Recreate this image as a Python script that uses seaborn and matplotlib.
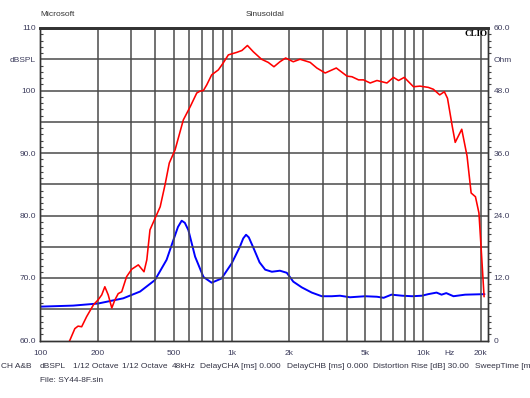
import numpy as np
import pandas as pd
import seaborn as sns
import matplotlib.pyplot as plt

# SPL response (red, left axis)
spl_freq = [130, 143, 152, 158, 165, 175, 190, 201, 210, 218,
            227, 237, 246, 256, 267, 283, 301, 326, 349, 361,
            375, 398, 424, 450, 473, 507, 560, 608, 658, 685,
            713, 742, 787, 853, 904, 962, 1064, 1132, 1210, 1298,
            1433, 1553, 1664, 1788, 1915, 2099, 2277, 2571, 2786, 3080,
            3520, 4003, 4250, 4600, 4883, 5290, 5740, 6470, 7000, 7440,
            7970, 8900, 9620, 10630, 11300, 12200, 12900, 13400, 14200, 14700,
            15900, 16950, 17800, 18750, 19550, 20100, 20800]
spl_db = [57.5, 60.0, 61.9, 62.3, 62.2, 63.8, 65.7, 66.5, 67.3, 68.6,
          67.3, 65.2, 66.5, 67.5, 67.8, 70.2, 71.4, 72.1, 71.0, 72.9,
          77.7, 79.5, 81.4, 85.0, 88.4, 90.5, 95.3, 97.4, 99.6, 99.9,
          100.0, 100.9, 102.5, 103.3, 104.4, 105.7, 106.1, 106.4, 107.2, 106.2,
          105.0, 104.5, 103.8, 104.6, 105.2, 104.6, 105.0, 104.5, 103.6, 102.8,
          103.6, 102.3, 102.2, 101.7, 101.7, 101.2, 101.6, 101.2, 102.1, 101.6,
          102.1, 100.6, 100.7, 100.5, 100.2, 99.3, 99.8, 98.75, 94.2, 91.7,
          93.8, 89.5, 83.6, 83.0, 80.4, 74.5, 67.0]

# impedance (blue, right axis)
imp_freq = [100, 149, 201, 272, 333, 398, 458, 497, 525, 549,
            570, 595, 645, 713, 787, 886, 1001, 1105, 1150, 1190,
            1230, 1300, 1400, 1498, 1623, 1788, 1942, 2099, 2325, 2622,
            2956, 3335, 3680, 4150, 4980, 5740, 6220, 6830, 7770, 8770,
            9850, 10630, 11750, 12470, 13200, 14400, 16550, 20900]
imp_ohm = [6.5, 6.7, 7.1, 8.1, 9.4, 11.6, 15.5, 19.3, 21.8, 23.0,
           22.6, 21.2, 16.1, 12.2, 11.1, 11.9, 14.8, 18.0, 19.6, 20.3,
           19.8, 17.8, 15.0, 13.6, 13.2, 13.4, 13.0, 11.3, 10.2, 9.2,
           8.5, 8.5, 8.6, 8.3, 8.5, 8.4, 8.2, 8.8, 8.6, 8.5,
           8.6, 8.9, 9.2, 8.8, 9.1, 8.5, 8.8, 8.9]

x_ticks = [100, 200, 500, 1000, 2000, 5000, 10000, 13800, 20000]
x_labels = ["100", "200", "500", "1k", "2k", "5k", "10k", "Hz", "20k"]
x_grid = [200, 300, 400, 500, 600, 700, 800, 900,
          1000, 2000, 3000, 4000, 5000, 6000, 7000, 8000, 9000, 10000, 20000]
left_ticks = [60, 65, 70, 75, 80, 85, 90, 95, 100, 105, 110]
left_labels = ["60.0", "", "70.0", "", "80.0", "", "90.0", "", "100", "dBSPL", "110"]
right_ticks = [0, 6, 12, 18, 24, 30, 36, 42, 48, 54, 60]
right_labels = ["0", "", "12.0", "", "24.0", "", "36.0", "", "48.0", "Ohm", "60.0"]

footer = [("CH A&B", 1), ("dBSPL", 40), ("1/12 Octave", 73), ("1/12 Octave", 122),
          ("48kHz", 172), ("DelayCHA [ms] 0.000", 200), ("DelayCHB [ms] 0.000", 287),
          ("Distortion Rise [dB] 30.00", 373), ("SweepTime [ms]", 475)]

sns.set_style("white")
plt.rcParams['font.family'] = ['Liberation Sans', 'DejaVu Sans']
fs = 6
lab_col = "#3c3c5c"

W, H = 530, 398
fig = plt.figure(figsize=(W / 100, H / 100), dpi=100)
ax = fig.add_axes([40 / W, (H - 340.5) / H, 448 / W, 312.5 / H])
ax2 = ax.twinx()

spl = pd.DataFrame({"freq": spl_freq, "db": spl_db})
imp = pd.DataFrame({"freq": imp_freq, "ohm": imp_ohm})

sns.lineplot(data=imp, x="freq", y="ohm", ax=ax2, color="#0000ff", lw=1.4, sort=False)
sns.lineplot(data=spl, x="freq", y="db", ax=ax, color="#ff0000", lw=1.15, sort=False)
ax.set_zorder(ax2.get_zorder() + 1)
ax.patch.set_visible(False)

ax.set_xscale("log")
ax.set_xlim(100, 21800)
ax.set_ylim(60, 110)
ax2.set_ylim(0, 60)

ax.set_xticks(x_ticks)
ax.set_xticklabels(x_labels)
ax.set_xticks(x_grid, minor=True)
ax.tick_params(axis="x", which="both", length=0, labelsize=fs, colors=lab_col, pad=7)
ax.grid(False)
for f in x_grid:
    ax.axvline(f, color="#4a4a4a", lw=1.1, zorder=0)

ax.set_yticks(left_ticks)
ax.set_yticklabels(left_labels)
ax.set_yticks(np.arange(60, 111, 1), minor=True)
ax.tick_params(axis="y", which="major", length=0, labelsize=fs, colors=lab_col, pad=3)
ax.tick_params(axis="y", which="minor", length=2.5, direction="in", color="#444444", width=0.8)
for v in left_ticks[1:-1]:
    ax.axhline(v, color="#4a4a4a", lw=1.1, zorder=0)

ax2.set_yticks(right_ticks)
ax2.set_yticklabels(right_labels)
ax2.set_yticks(np.arange(0, 60.1, 1.2), minor=True)
ax2.tick_params(axis="y", which="major", length=0, labelsize=fs, colors=lab_col, pad=4)
ax2.tick_params(axis="y", which="minor", length=2.5, direction="out", color="#444444", width=0.8)
ax2.grid(False)

ax.set_xlabel("")
ax.set_ylabel("")
ax2.set_ylabel("")

for a in (ax, ax2):
    for s in a.spines.values():
        s.set_color("#333333")
        s.set_linewidth(1.0)
    a.spines["top"].set_linewidth(2.0)

ax.text(1.0, 0.995, "CLIO", transform=ax.transAxes, ha="right", va="top",
        fontsize=6.5, fontweight="bold", family=["Liberation Serif", "DejaVu Serif"], color="black")

fig.text(40 / W, 1 - 15 / H, "Microsoft", fontsize=fs, color="#333333", ha="left", va="center")
fig.text(265 / W, 1 - 15 / H, "Sinusoidal", fontsize=fs, color="#333333", ha="center", va="center")
for txt, px in footer:
    fig.text(px / W, 1 - 366 / H, txt, fontsize=fs, color="#333344", ha="left", va="center")
fig.text(40 / W, 1 - 380 / H, "File: SY44-8F.sin", fontsize=fs, color="#333344", ha="left", va="center")

fig.savefig("out.png", dpi=100)
